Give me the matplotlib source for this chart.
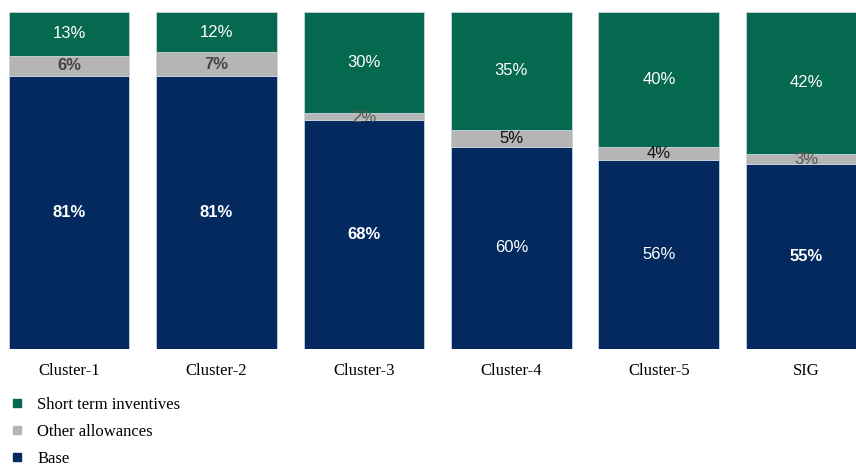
import matplotlib.pyplot as plt
from matplotlib.lines import Line2D

# Pay mix per cluster (percent of total)
clusters = ['Cluster-1', 'Cluster-2', 'Cluster-3', 'Cluster-4', 'Cluster-5', 'SIG']
base = [81, 81, 68, 60, 56, 55]
other = [6, 7, 2, 5, 4, 3]
short_term = [13, 12, 30, 35, 40, 42]

series_names = ['Short term inventives', 'Other allowances', 'Base']
navy = '#03295e'
grey = '#b5b5b5'
green = '#04694f'

# which labels are set in bold
base_bold = [True, True, True, False, False, True]
other_bold = [True, True, False, False, False, False]
other_color = ['#444444', '#444444', '#555555', '#111111', '#111111', '#555555']

fig = plt.figure(figsize=(8.56, 4.68), dpi=100)
ax = fig.add_axes([0, 1 - 349 / 468, 1, 337 / 468])

x = list(range(len(clusters)))
w = 0.82
edge = dict(edgecolor='#c9d4e0', linewidth=0.6)
ax.bar(x, base, w, color=navy, **edge)
ax.bar(x, other, w, bottom=base, color=grey, **edge)
bottom2 = [b + o for b, o in zip(base, other)]
ax.bar(x, short_term, w, bottom=bottom2, color=green, **edge)

lab = dict(ha='center', va='center', fontsize=12, family='Liberation Sans')
for i in x:
    ax.text(i, base[i] / 2, f'{base[i]}%', color='white',
            fontweight='bold' if base_bold[i] else 'normal', **lab)
    ax.text(i, base[i] + other[i] / 2 - (0.4 if other[i] < 4 else 0), f'{other[i]}%',
            color=other_color[i], fontweight='bold' if other_bold[i] else 'normal', **lab)
    ax.text(i, bottom2[i] + short_term[i] / 2, f'{short_term[i]}%', color='white', **lab)

ax.set_xlim(-0.468, 5.336)
ax.set_ylim(0, 100)
ax.set_yticks([])
ax.set_xticks(x)
ax.set_xticklabels(clusters, family='Liberation Serif', fontsize=12)
ax.tick_params(axis='x', length=0, pad=10)
for s in ax.spines.values():
    s.set_visible(False)

handles = [Line2D([], [], ls='', marker='s', markersize=6, color=c)
           for c in (green, grey, navy)]
fig.legend(handles, series_names, loc='upper left', bbox_to_anchor=(-0.004, 0.176),
           frameon=False, prop={'family': 'Liberation Serif', 'size': 12},
           handlelength=1.0, handletextpad=0.75, labelspacing=0.66, borderaxespad=0.3)

fig.savefig('out.png', dpi=100)
